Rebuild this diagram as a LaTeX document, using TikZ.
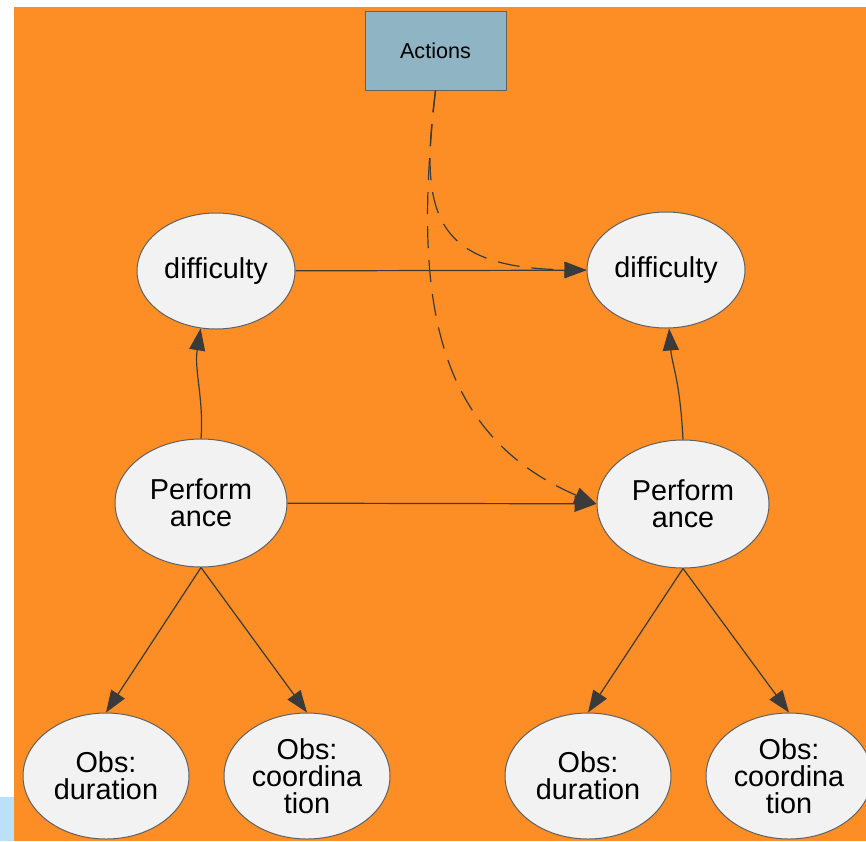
\documentclass[tikz,border=0pt]{standalone}
\usepackage{fontspec}
\setmainfont{Liberation Sans}
\usetikzlibrary{shapes.geometric,arrows.meta}

\definecolor{bgorange}{RGB}{253,142,38}
\definecolor{boxblue}{RGB}{143,180,195}
\definecolor{nodegray}{RGB}{242,242,242}
\definecolor{edgegray}{RGB}{58,58,58}
\definecolor{stripblue}{RGB}{186,225,247}

\begin{document}
\begin{tikzpicture}[x=0.5pt, y=-0.5pt,
  state/.style={ellipse, draw=edgegray!80, line width=0.5pt, fill=nodegray, inner sep=0pt,
    align=center, text=black, font=\fontsize{14.4}{13.4}\selectfont},
  small/.style={state, minimum width=79pt, minimum height=58pt},
  big/.style={state, minimum width=86pt, minimum height=64pt},
  obs/.style={state, minimum width=83pt, minimum height=63pt},
  link/.style={draw=edgegray, line width=0.6pt, -{Triangle[length=11pt,width=8pt]}},
  dashlink/.style={link, dash pattern=on 11pt off 6pt}]
\useasboundingbox (0,0) rectangle (866,841);
\clip (0,0) rectangle (866,841);

% Page background
\fill[stripblue] (0,797) rectangle (14,841);
\fill[bgorange] (14,7) rectangle (866,841);

% Action node
\node[draw=edgegray!80, fill=boxblue, minimum width=70.5pt, minimum height=39.5pt,
  inner sep=0pt, font=\fontsize{10.8}{13}\selectfont] (act) at (435.5,50.5) {Actions};

% Slice 1
\node[small] (diffL) at (216,271) {difficulty};
\node[big] (perfL) at (201,503) {Perform\\ance};
\node[obs] (obsdurL) at (106,776) {Obs:\\duration};
\node[obs] (obscoL) at (307,776) {Obs:\\coordina\\tion};

% Slice 2
\node[small] (diffR) at (666,270) {difficulty};
\node[big] (perfR) at (683,504) {Perform\\ance};
\node[obs] (obsdurR) at (588,776) {Obs:\\duration};
\node[obs] (obscoR) at (789,776) {Obs:\\coordina\\tion};

% Links between slices
\draw[link] (diffL) -- (diffR);
\draw[link] (perfL) -- (perfR);

% Performance feeds difficulty
\draw[link] (perfL.north) .. controls (204,400) and (194,370) .. (diffL.-105);
\draw[link] (perfR.north) .. controls (680,380) and (672,365) .. (diffR.-87);

% Observations
\foreach \p/\o in {perfL/obsdurL, perfL/obscoL, perfR/obsdurR, perfR/obscoR}
  \draw[link] (\p.south) -- (\o.north);

% Actions act on the second slice
\draw[dashlink] (act.south) .. controls (420,210) and (430,268) .. (diffR.west);
\draw[dashlink] (act.south) .. controls (415,280) and (425,430) .. (perfR.west);
\end{tikzpicture}
\end{document}
